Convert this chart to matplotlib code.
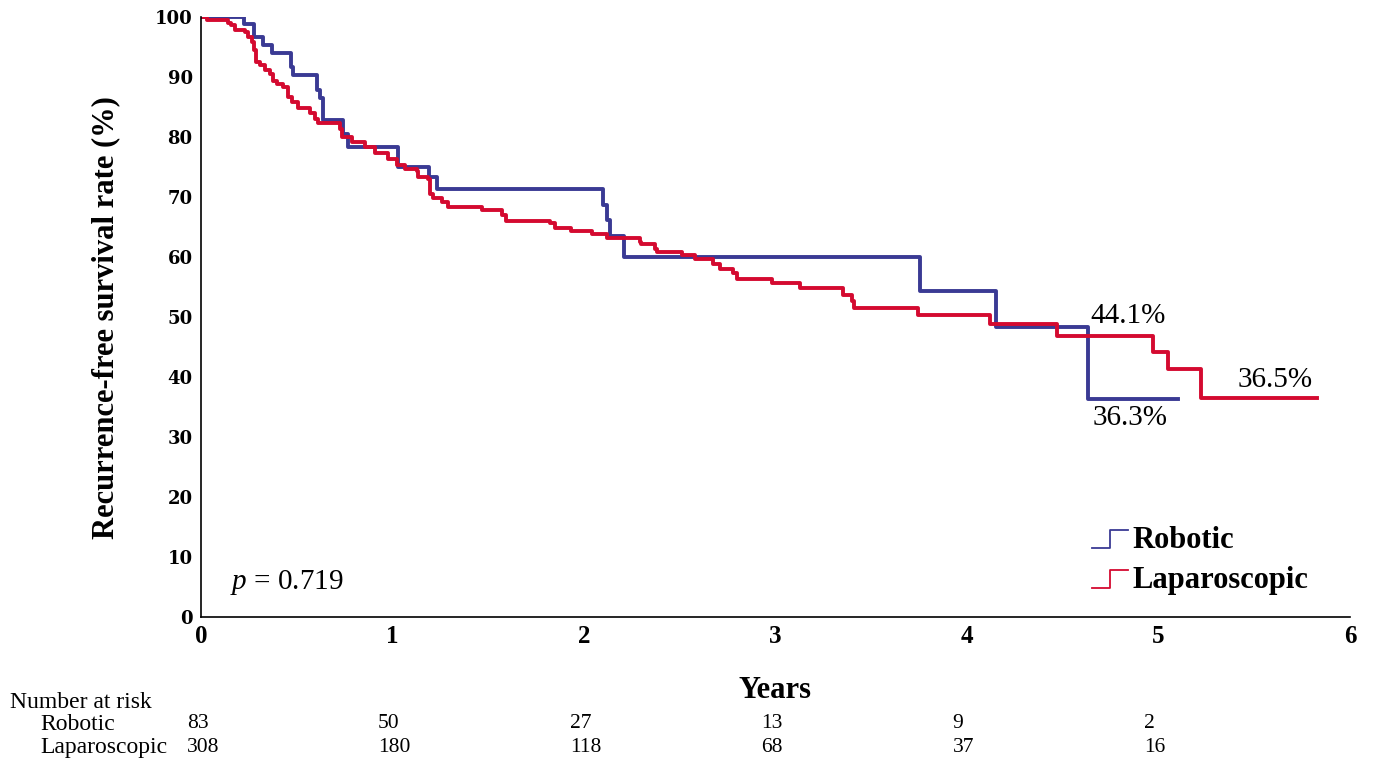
import matplotlib.pyplot as plt
import matplotlib.transforms as mtransforms
from matplotlib.legend_handler import HandlerBase
from matplotlib.lines import Line2D

# Kaplan-Meier step curves (time in years, survival in %)
robotic_t = [0, 0.226, 0.278, 0.325, 0.372, 0.468, 0.482, 0.604, 0.621, 0.635,
             0.743, 0.766, 1.03, 1.19, 1.23, 2.10, 2.12, 2.135, 2.21, 3.755,
             4.15, 4.63, 5.10]
robotic_s = [100, 98.8, 96.7, 95.3, 94.1, 91.7, 90.3, 87.8, 86.5, 82.8,
             80.5, 78.4, 75.1, 73.3, 71.4, 68.7, 66.2, 63.5, 60.0, 54.4,
             48.3, 36.3, 36.3]

lap_t = [0, 0.03, 0.143, 0.157, 0.178, 0.23, 0.247, 0.264, 0.278, 0.287, 0.308,
         0.334, 0.36, 0.378, 0.395, 0.43, 0.456, 0.473, 0.508, 0.569, 0.595,
         0.613, 0.726, 0.735, 0.787, 0.856, 0.909, 0.978, 1.022, 1.065, 1.126,
         1.135, 1.187, 1.196, 1.213, 1.26, 1.29, 1.465, 1.57, 1.59, 1.82, 1.85,
         1.93, 2.04, 2.12, 2.29, 2.30, 2.37, 2.38, 2.51, 2.58, 2.675, 2.71,
         2.78, 2.80, 2.98, 3.13, 3.35, 3.40, 3.41, 3.745, 4.12, 4.47, 4.97,
         5.05, 5.22, 5.83]
lap_s = [100, 99.6, 99.0, 98.7, 97.9, 97.6, 96.7, 95.9, 94.5, 92.6, 92.0,
         91.2, 90.5, 89.3, 88.9, 88.3, 86.7, 85.9, 84.8, 84.1, 83.1,
         82.4, 81.4, 80.0, 79.2, 78.4, 77.3, 76.4, 75.3, 74.7, 74.4,
         73.3, 73.0, 70.6, 69.9, 69.2, 68.4, 67.8, 67.0, 66.0, 65.6, 64.9,
         64.3, 63.8, 63.2, 62.5, 62.1, 61.4, 60.9, 60.3, 59.7, 58.8, 58.0,
         57.3, 56.4, 55.7, 54.8, 53.7, 52.6, 51.5, 50.3, 48.9, 46.9, 44.1,
         41.3, 36.5, 36.5]

risk_times = [0, 1, 2, 3, 4, 5]
risk_robotic = [83, 50, 27, 13, 9, 2]
risk_lap = [308, 180, 118, 68, 37, 16]

labels = [(4.84, 50.2, "44.1%"), (4.85, 33.2, "36.3%"), (5.61, 39.5, "36.5%")]

blue = "#3a3a94"
red = "#d40a30"
serif = "Liberation Serif"
plt.rcParams["font.family"] = serif
plt.rcParams["mathtext.fontset"] = "custom"
plt.rcParams["mathtext.it"] = "Liberation Serif:italic"
plt.rcParams["mathtext.rm"] = "Liberation Serif"


class StepHandler(HandlerBase):
    def create_artists(self, legend, orig_handle, xdescent, ydescent,
                       width, height, fontsize, trans):
        xs = [0, width * 0.5, width * 0.5, width]
        ys = [height * 0.0, height * 0.0, height * 0.85, height * 0.85]
        ln = Line2D([x - xdescent for x in xs], [y - ydescent for y in ys],
                    color=orig_handle.get_color(), lw=1.3)
        ln.set_transform(trans)
        return [ln]


fig = plt.figure(figsize=(13.78, 7.8), dpi=100)
ax = fig.add_axes([0.1459, 0.209, 0.8338, 0.769])

l1, = ax.step(robotic_t, robotic_s, where="post", color=blue, lw=2.8, label="Robotic")
l2, = ax.step(lap_t, lap_s, where="post", color=red, lw=2.8, label="Laparoscopic")

ax.set_xlim(0, 6)
ax.set_ylim(0, 100)
ax.set_xticks(range(7))
ax.set_yticks(range(0, 101, 10))
ax.tick_params(length=0, pad=6)
for lab in ax.get_xticklabels():
    lab.set_fontsize(18)
    lab.set_fontweight("bold")
for lab in ax.get_yticklabels():
    lab.set_fontsize(13)
    lab.set_fontweight("bold")
    lab.set_family("DejaVu Serif")
ax.spines["top"].set_visible(False)
ax.spines["right"].set_visible(False)
ax.spines["left"].set_linewidth(1.2)
ax.spines["bottom"].set_linewidth(1.2)

ax.set_ylabel("Recurrence-free survival rate (%)", fontsize=22, fontweight="bold")
ax.yaxis.set_label_coords(-0.07, 0.5)
fig.text(0.5625, 1 - 690 / 780, "Years", fontsize=22, fontweight="bold", ha="center", va="center")

for x, y, s in labels:
    ax.text(x, y, s, fontsize=21, ha="center", va="center")

ax.text(0.15, 5.7, r"$p$ = 0.719", fontsize=21, ha="left", va="center")

leg = ax.legend(handles=[l1, l2], loc="upper left", bbox_to_anchor=(0.7755, 0.152),
                borderaxespad=0, borderpad=0,
                frameon=False, handler_map={Line2D: StepHandler()},
                prop={"family": serif, "weight": "bold", "size": 22},
                handlelength=1.18, handletextpad=0.15, labelspacing=0.36)

# number at risk table
trans = mtransforms.blended_transform_factory(ax.transData, fig.transFigure)
fig.text(10 / 1378, 1 - 703 / 780, "Number at risk", fontsize=17, ha="left", va="center")
fig.text(40 / 1378, 1 - 724 / 780, "Robotic", fontsize=17, ha="left", va="center")
fig.text(40 / 1378, 1 - 748 / 780, "Laparoscopic", fontsize=17, ha="left", va="center")
for t, r, l in zip(risk_times, risk_robotic, risk_lap):
    ax.text(t - 0.075, 1 - 724 / 780, str(r), fontsize=15.5, ha="left", va="center", transform=trans)
    ax.text(t - 0.075, 1 - 748 / 780, str(l), fontsize=15.5, ha="left", va="center", transform=trans)

fig.savefig("out.png", dpi=100)
